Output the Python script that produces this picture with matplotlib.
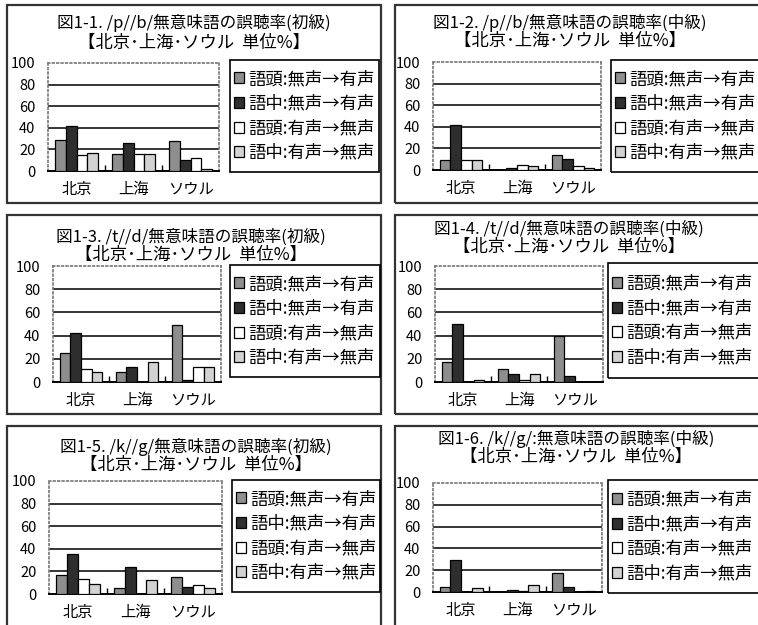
import matplotlib
matplotlib.use("Agg")
import matplotlib.pyplot as plt
from matplotlib.patches import Rectangle

plt.rcParams['font.family'] = ['Noto Sans CJK JP', 'DejaVu Sans']

W, H = 758, 625

cities = ['北京', '上海', 'ソウル']
series_labels = ['語頭:無声→有声', '語中:無声→有声', '語頭:有声→無声', '語中:有声→無声']
subtitle = '【北京･上海･ソウル  単位%】'

titles = [
    '図1-1. /p//b/無意味語の誤聴率(初級)',
    '図1-2. /p//b/無意味語の誤聴率(中級)',
    '図1-3. /t//d/無意味語の誤聴率(初級)',
    '図1-4. /t//d/無意味語の誤聴率(中級)',
    '図1-5. /k//g/無意味語の誤聴率(初級)',
    '図1-6. /k//g/:無意味語の誤聴率(中級)',
]

# values per chart: [series][city]
p_b_shokyu = [[29, 16, 28], [42, 26, 10], [15, 16, 12], [17, 16, 1.5]]
p_b_chukyu = [[9, 0, 14], [42, 2, 10], [9, 5, 4], [9, 4, 1.5]]
t_d_shokyu = [[25, 9, 49], [42, 13, 2], [11, 0, 13], [9, 17, 13]]
t_d_chukyu = [[17, 11, 40], [50, 7, 5], [0, 2, 0], [2, 7, 0]]
k_g_shokyu = [[17, 5, 15], [35, 24, 6], [13, 0, 8], [9, 12, 5]]
k_g_chukyu = [[5, 0, 17], [29, 2, 5], [0, 1, 0], [4, 6, 1]]
charts = [p_b_shokyu, p_b_chukyu, t_d_shokyu, t_d_chukyu, k_g_shokyu, k_g_chukyu]

colors = ['#8e8e8e', '#2e2e2e', '#ffffff', '#d2d2d2']

# pixel layout (left, top, right, bottom)
frames = [(7, 5, 381, 203), (395, 5, 770, 203),
          (7, 215, 381, 414), (395, 215, 770, 414),
          (7, 426, 381, 640), (395, 426, 770, 640)]
plots = [(48, 63, 219, 171), (433, 62, 601, 170),
         (53, 266, 221, 382), (435, 266, 603, 382),
         (49, 481, 222, 594), (433, 483, 602, 592)]
legend_boxes = [(230, 60, 379, 172), (611, 60, 770, 172),
                (230, 265, 380, 377), (608, 263, 770, 378),
                (232, 480, 380, 592), (608, 480, 770, 593)]
title_pos = [(194, 23, 43), (570, 23, 41), (191, 237, 255),
             (569, 229, 247), (196, 447, 465), (576, 439, 457)]

fig = plt.figure(figsize=(W / 100, H / 100), dpi=100)
fig.patch.set_facecolor('white')


def px_rect(box, **kw):
    l, t, r, b = box
    return Rectangle((l / W, 1 - b / H), (r - l) / W, (b - t) / H,
                     transform=fig.transFigure, fill=False, **kw)


for fr in frames:
    fig.add_artist(px_rect(fr, edgecolor='#333333', linewidth=1.6))

bw = 0.19
for i, data in enumerate(charts):
    l, t, r, b = plots[i]
    ax = fig.add_axes([l / W, 1 - b / H, (r - l) / W, (b - t) / H])
    for s in range(4):
        xs = [c + (s - 1.5) * bw for c in range(3)]
        ax.bar(xs, data[s], width=bw, color=colors[s], edgecolor='black',
               linewidth=0.9, label=series_labels[s], zorder=3)
    ax.set_ylim(0, 100)
    ax.set_xlim(-0.5, 2.5)
    ax.set_yticks([0, 20, 40, 60, 80, 100])
    for yv in [20, 40, 60, 80]:
        ax.axhline(yv, color='black', linewidth=1.1, zorder=1)
    ax.set_xticks(range(3))
    ax.set_xticklabels(cities, fontsize=11)
    ax.set_xticks([0.5, 1.5], minor=True)
    ax.tick_params(axis='x', which='major', length=0, pad=7)
    ax.tick_params(axis='x', which='minor', direction='in', length=4, width=1)
    ax.tick_params(axis='y', length=0, pad=9, labelsize=10.5)
    for side in ['top', 'right', 'left']:
        ax.spines[side].set_color('#777777')
        ax.spines[side].set_linestyle(':')
        ax.spines[side].set_linewidth(1.2)
    ax.spines['bottom'].set_color('black')
    ax.spines['bottom'].set_linewidth(1.4)

    tx, ty1, ty2 = title_pos[i]
    fig.text(tx / W, 1 - ty1 / H, titles[i], ha='center', va='center', fontsize=12)
    fig.text(tx / W, 1 - ty2 / H, subtitle, ha='center', va='center', fontsize=12.5)

    lb = legend_boxes[i]
    fig.add_artist(px_rect(lb, edgecolor='black', linewidth=1.2))
    ax.legend(loc='center left', bbox_to_anchor=((lb[0] + 4) / W, 1 - (lb[1] + lb[3]) / 2 / H),
              bbox_transform=fig.transFigure, fontsize=12.5, frameon=False,
              handlelength=0.6, handleheight=0.6, handletextpad=0.2,
              labelspacing=0.38, borderpad=0, borderaxespad=0)

fig.savefig('out.png', dpi=100, facecolor='white')
